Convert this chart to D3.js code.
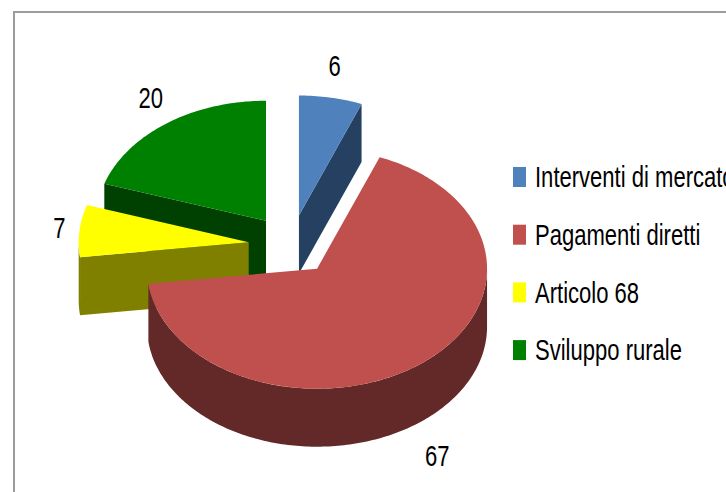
<!DOCTYPE html>
<html>
<head>
<meta charset="utf-8">
<script src="https://cdn.jsdelivr.net/npm/d3@7"></script>
<style>
  html, body { margin: 0; padding: 0; background: #fff; }
</style>
</head>
<body>
<svg id="chart"></svg>
<script>
// data
const categories = ["Interventi di mercato", "Pagamenti diretti", "Articolo 68", "Sviluppo rurale"];
const values = [6, 67, 7, 20];
const topColors = ["#4F81BD", "#C0504D", "#FFFF00", "#008000"];
const sideColors = ["#254061", "#632828", "#808000", "#004000"];

const svgWidth = 726;
const svgHeight = 492;
const textScale = 0.76; // squeezed text like the original
const fontSize = 29;

const svg = d3.select("#chart")
    .attr("width", svgWidth)
    .attr("height", svgHeight)
    .style("font-family", "'Liberation Sans', Arial, sans-serif");

svg.append("rect").attr("width", svgWidth).attr("height", svgHeight).attr("fill", "#fff");

// chart area frame (runs off the right and bottom edges)
svg.append("rect")
    .attr("x", 14).attr("y", 12)
    .attr("width", svgWidth + 40).attr("height", svgHeight + 40)
    .attr("fill", "#fff")
    .attr("stroke", "#9c9c9c")
    .attr("stroke-width", 2);

// 3d pie geometry
const geo = { cx: 291, cy: 245, rx: 170, ry: 120, depth: 58, explode: 0.25 };

const data = categories.map((c, i) => ({ name: c, value: values[i], top: topColors[i], side: sideColors[i] }));
const pie = d3.pie().sort(null).value(d => d.value);
const arcs = pie(data);

arcs.forEach(a => {
    a.mid = (a.startAngle + a.endAngle) / 2;
    a.ox = geo.explode * geo.rx * Math.sin(a.mid);
    a.oy = -geo.explode * geo.ry * Math.cos(a.mid);
});

function pt(a, ang, r, z) {
    return [geo.cx + a.ox + geo.rx * r * Math.sin(ang),
            geo.cy + a.oy - geo.ry * r * Math.cos(ang) + z];
}

function sweep(a0, a1) {
    const n = Math.max(2, Math.ceil((a1 - a0) / (Math.PI / 180)));
    return d3.range(n + 1).map(i => a0 + (a1 - a0) * i / n);
}

const line = d3.line();

// back slices first
const order = arcs.slice().sort((p, q) => p.oy - q.oy);

order.forEach(a => {
    const g = svg.append("g").attr("class", "slice");

    // radial cut faces facing the viewer
    [[a.startAngle, Math.sin(a.startAngle) < -1e-6], [a.endAngle, Math.sin(a.endAngle) > 1e-6]]
        .filter(f => f[1])
        .forEach(f => {
            const ang = f[0];
            g.append("path")
                .attr("d", line([pt(a, ang, 0, 0), pt(a, ang, 1, 0), pt(a, ang, 1, geo.depth), pt(a, ang, 0, geo.depth)]) + "Z")
                .attr("fill", a.data.side);
        });

    // outer wall, front half only
    const s = Math.max(a.startAngle, Math.PI / 2);
    const e = Math.min(a.endAngle, 3 * Math.PI / 2);
    if (s < e) {
        const angs = sweep(s, e);
        const pts = angs.map(t => pt(a, t, 1, 0))
            .concat(angs.slice().reverse().map(t => pt(a, t, 1, geo.depth)));
        g.append("path")
            .attr("d", line(pts) + "Z")
            .attr("fill", a.data.side);
    }

    // top face
    const topPts = [pt(a, 0, 0, 0)].concat(sweep(a.startAngle, a.endAngle).map(t => pt(a, t, 1, 0)));
    g.append("path")
        .attr("d", line(topPts) + "Z")
        .attr("fill", a.data.top);
});

// value labels outside each slice
arcs.forEach(a => {
    const front = Math.cos(a.mid) < 0;
    const rim = pt(a, a.mid, 1, front ? geo.depth : 0);
    const t = svg.append("text")
        .attr("text-anchor", "middle")
        .attr("dy", "0.35em")
        .style("font-size", fontSize + "px")
        .attr("fill", "#000")
        .text(a.data.value);
    const w = t.node().getComputedTextLength() * textScale;
    const x = rim[0] + Math.sin(a.mid) * (14 + w / 2);
    const y = rim[1] - Math.cos(a.mid) * (front ? 44 : 32);
    t.attr("transform", `translate(${x},${y}) scale(${textScale},1)`);
});

// legend
const legend = svg.selectAll(".legend")
    .data(data)
    .enter().append("g")
    .attr("class", "legend")
    .attr("transform", (d, i) => `translate(513,${177 + i * 57.7})`);

legend.append("rect")
    .attr("x", 0)
    .attr("y", -10)
    .attr("width", 13)
    .attr("height", 20)
    .attr("fill", d => d.top);

legend.append("text")
    .attr("transform", `translate(22,0) scale(${textScale},1)`)
    .attr("dy", "0.35em")
    .style("font-size", fontSize + "px")
    .text(d => d.name);
</script>
</body>
</html>
